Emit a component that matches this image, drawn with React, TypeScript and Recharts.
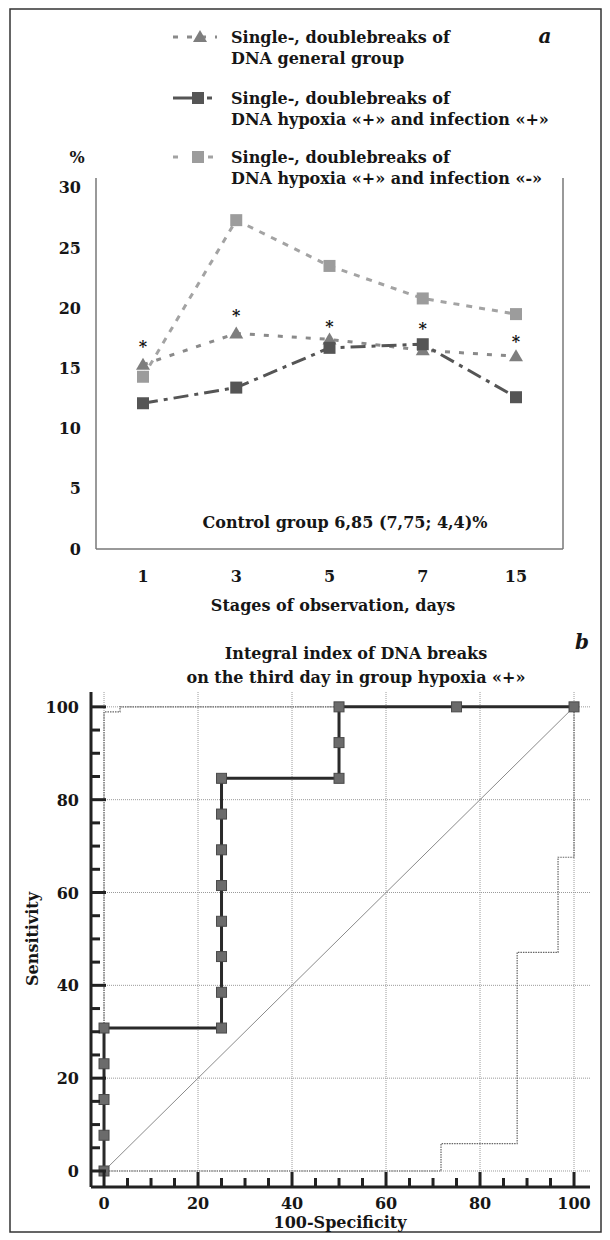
import React from "react";
import { LineChart, Line, XAxis, YAxis, ReferenceLine } from "recharts";

// panel a — DNA breaks by observation day, %
const days = ["1", "3", "5", "7", "15"];
const generalGroup = [15.3, 17.9, 17.4, 16.5, 16.0];
const hypoxiaInfPlus = [12.1, 13.4, 16.7, 17.0, 12.6];
const hypoxiaInfMinus = [14.3, 27.3, 23.5, 20.8, 19.5];
const asteriskLevel = [17.1, 19.7, 18.8, 18.6, 17.5];
const yTicksA = [0, 5, 10, 15, 20, 25, 30];

// panel b — ROC curve
const rocX = [0, 0, 0, 0, 0, 25, 25, 25, 25, 25, 25, 25, 25, 50, 50, 50, 75, 100];
const rocY = [0, 7.7, 15.4, 23.1, 30.8, 30.8, 38.5, 46.2, 53.8, 61.5, 69.2, 76.9, 84.6, 84.6, 92.3, 100, 100, 100];
const upperX = [0, 0, 3.4, 3.4, 100];
const upperY = [0, 98.9, 98.9, 100, 100];
const lowerX = [0, 71.7, 71.7, 87.9, 87.9, 96.6, 96.6, 100, 100];
const lowerY = [0, 0, 5.9, 5.9, 47.1, 47.1, 67.6, 67.6, 100];
const diagX = [0, 100];
const diagY = [0, 100];
const gridValues = [0, 20, 40, 60, 80, 100];
const tickValuesB = [0, 5, 10, 15, 20, 25, 30, 35, 40, 45, 50, 55, 60, 65, 70, 75, 80, 85, 90, 95, 100];

const FONT = "'DejaVu Serif', serif";
const INK = "#161616";
const FS = 16;

const dataA = days.map((day, i) => ({
  day,
  general: generalGroup[i],
  infPlus: hypoxiaInfPlus[i],
  infMinus: hypoxiaInfMinus[i],
  star: asteriskLevel[i]
}));

const toPoints = (xs: number[], ys: number[]) => xs.map((x, i) => ({ x, y: ys[i] }));

const squareDot = (color: string, size: number, stroke?: string) => (p: any) => {
  if (p.cx == null || p.cy == null) return <g key={`e${p.index}`} />;
  return (
    <rect
      key={`s${p.index}`}
      x={p.cx - size / 2}
      y={p.cy - size / 2}
      width={size}
      height={size}
      fill={color}
      stroke={stroke ?? "none"}
      strokeWidth={1}
    />
  );
};

const triangleDot = (color: string) => (p: any) => {
  if (p.cx == null || p.cy == null) return <g key={`e${p.index}`} />;
  const { cx, cy } = p;
  return <path key={`t${p.index}`} d={`M${cx},${cy - 7} L${cx + 7},${cy + 5} L${cx - 7},${cy + 5} Z`} fill={color} />;
};

const starDot = (p: any) => {
  if (p.cx == null || p.cy == null) return <g key={`e${p.index}`} />;
  return (
    <text key={`a${p.index}`} x={p.cx} y={p.cy + 9} textAnchor="middle" fontFamily={FONT} fontWeight="bold" fontSize={FS} fill={INK}>
      *
    </text>
  );
};

const yTickB = (p: any) => {
  const v = p.payload.value;
  const major = v % 20 === 0;
  return (
    <g key={`yt${v}`}>
      <line x1={p.x} x2={p.x + (major ? 15 : 9)} y1={p.y} y2={p.y} stroke="#222" strokeWidth={3} />
      {major && (
        <text x={p.x - 12} y={p.y + 6} textAnchor="end" fontFamily={FONT} fontWeight="bold" fontSize={FS} fill={INK}>
          {v}
        </text>
      )}
    </g>
  );
};

const xTickB = (p: any) => {
  const v = p.payload.value;
  const major = v % 20 === 0;
  return (
    <g key={`xt${v}`}>
      <line x1={p.x} x2={p.x} y1={p.y} y2={p.y - (major ? 15 : 9)} stroke="#222" strokeWidth={3} />
      {major && (
        <text x={p.x} y={p.y + 22} textAnchor="middle" fontFamily={FONT} fontWeight="bold" fontSize={FS} fill={INK}>
          {v}
        </text>
      )}
    </g>
  );
};

const legendItems = [
  { y: 37, lines: ["Single-, doublebreaks of", "DNA general group"], kind: "tri" },
  { y: 98, lines: ["Single-, doublebreaks of", "DNA hypoxia «+» and  infection «+»"], kind: "dark" },
  { y: 157, lines: ["Single-, doublebreaks of", "DNA hypoxia «+» and  infection «-»"], kind: "light" }
];

const textStyle = { fontFamily: FONT, fontWeight: "bold" as const, fontSize: FS, fill: INK };
const tickStyle = { fontFamily: FONT, fontWeight: "bold", fontSize: FS, fill: INK };

export default function App() {
  return (
    <div style={{ position: "absolute", left: 0, top: 0, width: 610, height: 1240, background: "#fff" }}>
      <div style={{ position: "absolute", left: 0, top: 0 }}>
        <LineChart width={610} height={620} data={dataA} margin={{ top: 178, right: 46, bottom: 11, left: 56 }}>
          <XAxis
            dataKey="day"
            padding={{ left: 47, right: 47 }}
            tickSize={0}
            tickMargin={22}
            axisLine={{ stroke: "#777", strokeWidth: 1.5 }}
            tick={tickStyle}
            height={60}
          />
          <YAxis
            domain={[0, 30.8]}
            ticks={yTicksA}
            allowDataOverflow
            width={40}
            tickLine={false}
            tickMargin={9}
            axisLine={{ stroke: "#777", strokeWidth: 1.5 }}
            tick={tickStyle}
          />
          <YAxis yAxisId="r" orientation="right" width={1} tick={false} tickLine={false} axisLine={{ stroke: "#777", strokeWidth: 1.5 }} />
          <Line
            dataKey="infMinus"
            stroke="#a3a3a3"
            strokeWidth={3}
            strokeDasharray="6 7"
            dot={squareDot("#9c9c9c", 12)}
            isAnimationActive={false}
          />
          <Line
            dataKey="general"
            stroke="#8a8a8a"
            strokeWidth={3}
            strokeDasharray="5 9"
            dot={triangleDot("#7e7e7e")}
            isAnimationActive={false}
          />
          <Line
            dataKey="infPlus"
            stroke="#555"
            strokeWidth={3}
            strokeDasharray="15 6 4 6"
            dot={squareDot("#555", 12)}
            isAnimationActive={false}
          />
          <Line dataKey="star" stroke="none" dot={starDot} activeDot={false} isAnimationActive={false} />
        </LineChart>
      </div>

      <div style={{ position: "absolute", left: 0, top: 620 }}>
        <LineChart width={610} height={620} margin={{ top: 72, right: 20, bottom: 13, left: 31 }}>
          <XAxis
            type="number"
            dataKey="x"
            domain={[-2.77, 103.4]}
            allowDataOverflow
            ticks={tickValuesB}
            interval={0}
            tickSize={0}
            tickMargin={0}
            tickLine={false}
            axisLine={{ stroke: "#222", strokeWidth: 3 }}
            tick={xTickB}
            height={40}
          />
          <YAxis
            type="number"
            dataKey="y"
            domain={[-3.45, 103.2]}
            allowDataOverflow
            ticks={tickValuesB}
            interval={0}
            tickSize={0}
            tickMargin={0}
            tickLine={false}
            axisLine={{ stroke: "#222", strokeWidth: 3 }}
            tick={yTickB}
            width={60}
          />
          {gridValues.map((v) => (
            <ReferenceLine key={`gx${v}`} x={v} stroke="#9a9a9a" strokeDasharray="1 1" />
          ))}
          {gridValues.map((v) => (
            <ReferenceLine key={`gy${v}`} y={v} stroke="#9a9a9a" strokeDasharray="1 1" />
          ))}
          <Line data={toPoints(diagX, diagY)} dataKey="y" stroke="#8a8a8a" strokeWidth={1} dot={false} isAnimationActive={false} />
          <Line data={toPoints(upperX, upperY)} dataKey="y" stroke="#666" strokeWidth={1.2} strokeDasharray="1.5 1" dot={false} isAnimationActive={false} />
          <Line data={toPoints(lowerX, lowerY)} dataKey="y" stroke="#666" strokeWidth={1.2} strokeDasharray="1.5 1" dot={false} isAnimationActive={false} />
          <Line
            data={toPoints(rocX, rocY)}
            dataKey="y"
            stroke="#2a2a2a"
            strokeWidth={3}
            dot={squareDot("#6b6b6b", 10, "#4a4a4a")}
            isAnimationActive={false}
          />
        </LineChart>
      </div>

      <svg width={610} height={1240} style={{ position: "absolute", left: 0, top: 0, pointerEvents: "none" }}>
        <rect x={10} y={9} width={591} height={1223} fill="none" stroke="#333" strokeWidth={1.5} />

        {legendItems.map((it, i) => (
          <g key={i}>
            {it.kind === "tri" && (
              <g>
                <line x1={173} x2={217} y1={it.y} y2={it.y} stroke="#8a8a8a" strokeWidth={3} strokeDasharray="5 9" />
                <path d={`M200,${it.y - 7} L207,${it.y + 5} L193,${it.y + 5} Z`} fill="#7e7e7e" />
              </g>
            )}
            {it.kind === "dark" && (
              <g>
                <line x1={173} x2={195} y1={it.y} y2={it.y} stroke="#555" strokeWidth={3} />
                <rect x={192} y={it.y - 6} width={12} height={12} fill="#555" />
                <line x1={207} x2={212} y1={it.y} y2={it.y} stroke="#555" strokeWidth={3} />
              </g>
            )}
            {it.kind === "light" && (
              <g>
                <line x1={173} x2={178} y1={it.y} y2={it.y} stroke="#a3a3a3" strokeWidth={3} />
                <rect x={192} y={it.y - 6} width={12} height={12} fill="#9c9c9c" />
                <line x1={208} x2={213} y1={it.y} y2={it.y} stroke="#a3a3a3" strokeWidth={3} />
              </g>
            )}
            <text x={231} y={it.y + 6} {...textStyle}>{it.lines[0]}</text>
            <text x={231} y={it.y + 27} {...textStyle}>{it.lines[1]}</text>
          </g>
        ))}

        <text x={545} y={43} textAnchor="middle" fontFamily={FONT} fontWeight="bold" fontStyle="italic" fontSize={20} fill={INK}>a</text>
        <text x={582} y={649} textAnchor="middle" fontFamily={FONT} fontWeight="bold" fontStyle="italic" fontSize={20} fill={INK}>b</text>
        <text x={77} y={163} textAnchor="middle" {...textStyle}>%</text>

        <text x={345} y={528} textAnchor="middle" {...textStyle}>Control group 6,85 (7,75; 4,4)%</text>
        <text x={333} y={611} textAnchor="middle" {...textStyle}>Stages of observation, days</text>

        <text x={356} y={659} textAnchor="middle" {...textStyle}>Integral index of DNA breaks</text>
        <text x={356} y={683} textAnchor="middle" {...textStyle}>on the third day in group hypoxia «+»</text>

        <text x={340} y={1228} textAnchor="middle" {...textStyle}>100-Specificity</text>
        <text x={38} y={939} textAnchor="middle" transform="rotate(-90 38 939)" {...textStyle}>Sensitivity</text>
      </svg>
    </div>
  );
}
